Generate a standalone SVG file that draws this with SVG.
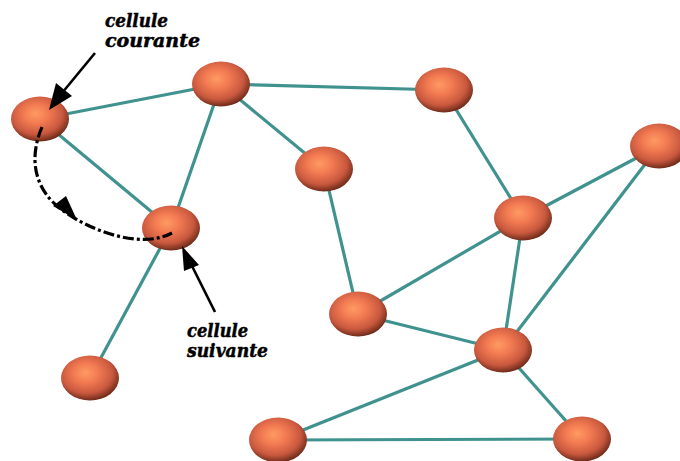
<svg xmlns="http://www.w3.org/2000/svg" width="680" height="461" viewBox="0 0 680 461">
<defs>
<radialGradient id="ball" cx="0.45" cy="0.4" r="0.62" fx="0.42" fy="0.38">
<stop offset="0" stop-color="#ff9a62"/>
<stop offset="0.35" stop-color="#f27a52"/>
<stop offset="0.72" stop-color="#c8583e"/>
<stop offset="1" stop-color="#642616"/>
</radialGradient>
<style>
.edge{stroke:#3f928e;stroke-width:3.2;fill:none}
.node{fill:url(#ball)}
.lbl{font-family:"DejaVu Serif","Liberation Serif",serif;font-weight:bold;font-style:italic;font-size:18px;fill:#000;stroke:#000;stroke-width:0.5}
.arr{stroke:#000;stroke-width:2.6;fill:none}
.head{fill:#000}
.dd{stroke:#000;stroke-width:3.2;fill:none;stroke-dasharray:11 3 3 3}
</style>
</defs>
<rect width="680" height="461" fill="#fff"/>
<g id="connectors">
<line class="edge" x1="40" y1="119" x2="221" y2="84"/>
<line class="edge" x1="40" y1="119" x2="171" y2="228"/>
<line class="edge" x1="221" y1="84" x2="171" y2="228"/>
<line class="edge" x1="221" y1="84" x2="324" y2="169"/>
<line class="edge" x1="221" y1="84" x2="444" y2="90"/>
<line class="edge" x1="444" y1="90" x2="523" y2="218"/>
<line class="edge" x1="523" y1="218" x2="659" y2="146"/>
<line class="edge" x1="523" y1="218" x2="503" y2="350"/>
<line class="edge" x1="659" y1="146" x2="503" y2="350"/>
<line class="edge" x1="523" y1="218" x2="358" y2="314"/>
<line class="edge" x1="324" y1="169" x2="358" y2="314"/>
<line class="edge" x1="358" y1="314" x2="503" y2="350"/>
<line class="edge" x1="503" y1="350" x2="278" y2="440"/>
<line class="edge" x1="503" y1="350" x2="582" y2="439"/>
<line class="edge" x1="278" y1="440" x2="582" y2="439"/>
<line class="edge" x1="171" y1="228" x2="90" y2="378"/>
</g>
<g id="n-courante"><ellipse class="node" cx="40" cy="119" rx="29" ry="22.5"/></g>
<g id="n-b"><ellipse class="node" cx="221" cy="84" rx="29" ry="22.5"/></g>
<g id="n-suivante"><ellipse class="node" cx="171" cy="228" rx="29" ry="22.5"/></g>
<g id="n-d"><ellipse class="node" cx="324" cy="169" rx="29" ry="22.5"/></g>
<g id="n-e"><ellipse class="node" cx="444" cy="90" rx="29" ry="22.5"/></g>
<g id="n-f"><ellipse class="node" cx="659" cy="146" rx="29" ry="22.5"/></g>
<g id="n-g"><ellipse class="node" cx="523" cy="218" rx="29" ry="22.5"/></g>
<g id="n-h"><ellipse class="node" cx="358" cy="314" rx="29" ry="22.5"/></g>
<g id="n-i"><ellipse class="node" cx="503" cy="350" rx="29" ry="22.5"/></g>
<g id="n-j"><ellipse class="node" cx="90" cy="378" rx="29" ry="22.5"/></g>
<g id="n-k"><ellipse class="node" cx="278" cy="440" rx="29" ry="22.5"/></g>
<g id="n-l"><ellipse class="node" cx="582" cy="439" rx="29" ry="22.5"/></g>
<g id="annotations">
<path class="dd" d="M42,127 C28,160 35,190 62,210 C89,230 140,250 172,233"/>
<polygon class="head" points="77,220 53,206 66,196"/>
<line class="arr" x1="95" y1="53" x2="62" y2="93"/>
<polygon class="head" points="49,110 56,83 72,96"/>
<line class="arr" x1="215" y1="312" x2="191" y2="264"/>
<polygon class="head" points="182,246 199,265 184,271"/>
<text class="lbl" x="105" y="27" textLength="63" lengthAdjust="spacingAndGlyphs">cellule</text>
<text class="lbl" x="105" y="47" textLength="95" lengthAdjust="spacingAndGlyphs">courante</text>
<text class="lbl" x="187" y="337" textLength="61" lengthAdjust="spacingAndGlyphs">cellule</text>
<text class="lbl" x="187" y="357" textLength="81" lengthAdjust="spacingAndGlyphs">suivante</text>
</g>
</svg>
